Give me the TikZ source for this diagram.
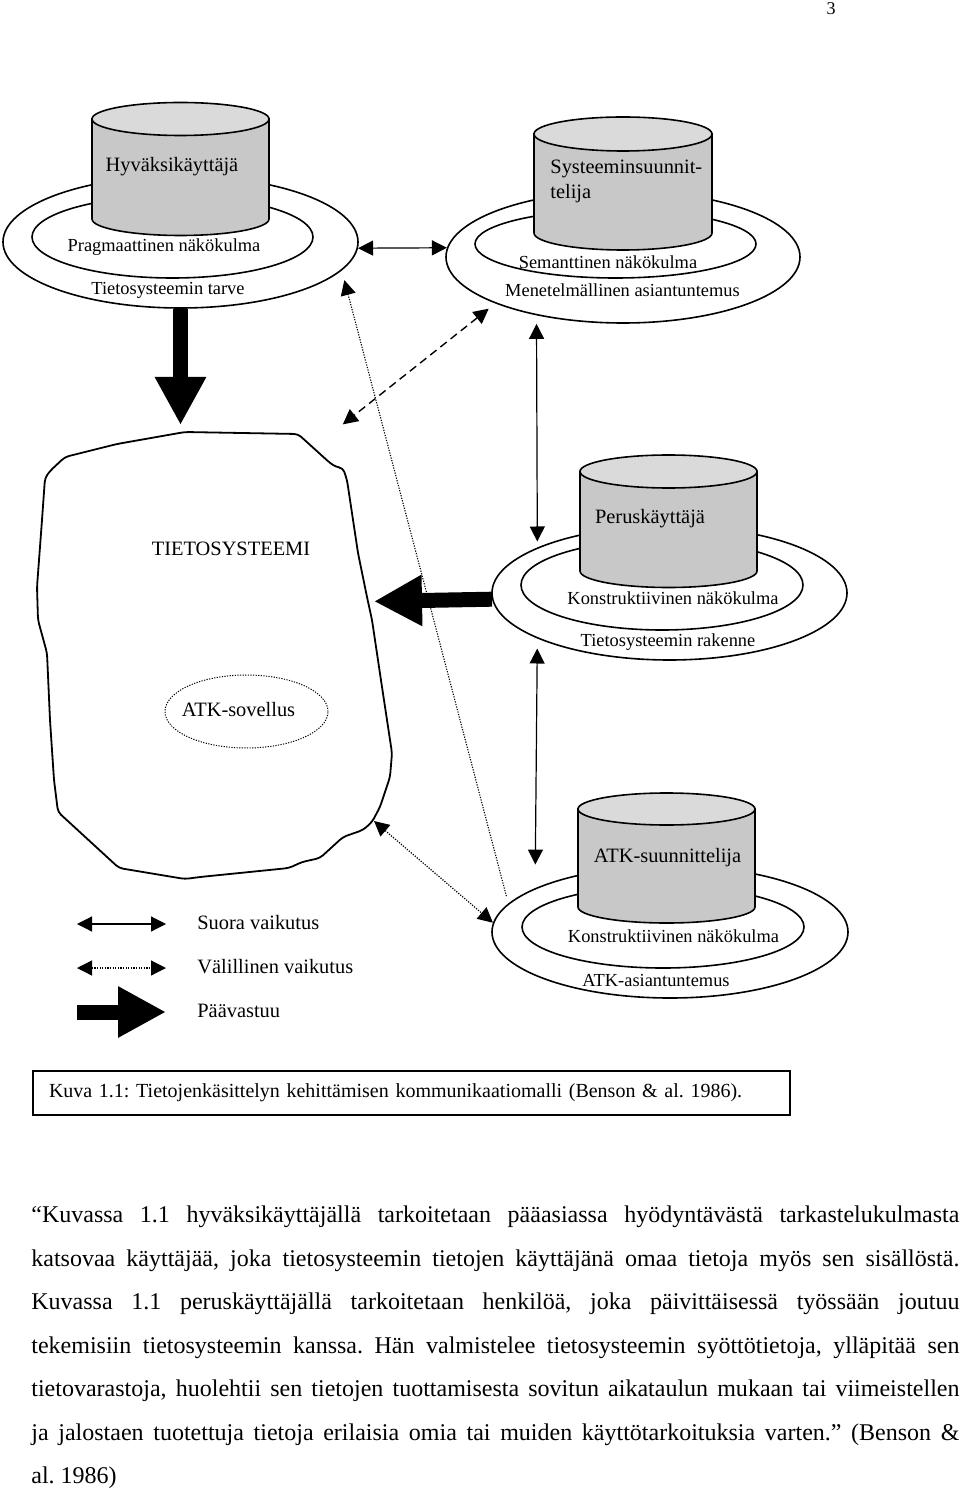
\documentclass[tikz,border=0pt]{standalone}
\usepackage{fontspec}
\setmainfont{Liberation Serif}
\usepackage{tikz}
\usetikzlibrary{calc}
\usetikzlibrary{shapes.geometric}
\usetikzlibrary{arrows.meta}
\definecolor{G0}{HTML}{C8C8C8}
\definecolor{G1}{HTML}{DADADA}
\tikzset{
  ring/.style={ellipse,draw,line width=0.8pt,inner sep=0pt},
  nimi/.style={font=\fontsize{10.2}{12.5}\selectfont,inner sep=0pt},
  pieni/.style={font=\fontsize{9.2}{11}\selectfont,inner sep=0pt},
  suora/.style={line width=0.6pt,{Triangle[length=7.5pt,width=7.5pt]}-{Triangle[length=7.5pt,width=7.5pt]}},
  valil/.style={suora,dash pattern=on 0.6pt off 0.7pt},
  katko/.style={suora,line width=0.7pt,dash pattern=on 4pt off 2.5pt},
  piste/.style={line width=0.55pt,dash pattern=on 0.6pt off 0.7pt,-{Triangle[length=7.5pt,width=7.5pt]}},
  paa/.style={line width=7.5pt,-{Triangle[length=24pt,width=24pt]}}
}
% cylinder: x, top y, bottom y, x radius, y radius
\newcommand{\drum}[5]{%
  \draw[line width=0.8pt,fill=G0] (#1-#4,#2) -- (#1-#4,#3)
    arc[start angle=180,end angle=0,x radius=#4,y radius=#5] -- (#1+#4,#2) -- cycle;
  \draw[line width=0.8pt,fill=G1] (#1,#2) ellipse[x radius=#4,y radius=#5];
}

\begin{document}
\frenchspacing
\begin{tikzpicture}[x=0.5pt,y=-0.5pt]
\useasboundingbox (0,0) rectangle (960,1491);

\node[font=\fontsize{9}{10}\selectfont,anchor=base] (sivu) at (831,15) {3};

% rings
\node[ring,minimum width=177.5pt,minimum height=66pt] (o1) at (180.5,242) {};
\node[ring,minimum width=140.5pt,minimum height=41pt] (i1) at (172.5,237) {};
\node[ring,minimum width=177pt,minimum height=66pt] (o2) at (623,257) {};
\node[ring,minimum width=140.5pt,minimum height=34pt] (i2) at (615.5,244) {};
\node[ring,minimum width=177.5pt,minimum height=67pt] (o3) at (669.5,593) {};
\node[ring,minimum width=141pt,minimum height=45pt] (i3) at (662,585) {};
\node[ring,minimum width=178pt,minimum height=66pt] (o4) at (670,932) {};
\node[ring,minimum width=141pt,minimum height=41pt] (i4) at (663,927) {};

\drum{180.5}{119}{219}{88.5}{16.5}
\drum{623}{134}{233}{89}{17}
\drum{668.5}{471.5}{571}{88.5}{16.5}
\drum{666.5}{809}{907}{88.5}{16}

\node[nimi] (hyv) at (172,167) {Hyväksikäyttäjä};
\node[pieni] (prag) at (164,247) {Pragmaattinen näkökulma};
\node[pieni] (tarve) at (168,290) {Tietosysteemin tarve};
\node[nimi,anchor=west,align=left] (sys) at (550,181.6) {Systeeminsuunnit-\\telija};
\node[pieni] (sem) at (608,262) {Semanttinen näkökulma};
\node[pieni] (men) at (622.5,290) {Menetelmällinen asiantuntemus};
\node[nimi] (perus) at (650,519) {Peruskäyttäjä};
\node[pieni] (kon1) at (673,598) {Konstruktiivinen näkökulma};
\node[pieni] (rak) at (668,642) {Tietosysteemin rakenne};
\node[nimi] (atks) at (667.5,858) {ATK-suunnittelija};
\node[pieni] (kon2) at (673.5,936) {Konstruktiivinen näkökulma};
\node[pieni] (atka) at (656,980) {ATK-asiantuntemus};

% tietosysteemi
\draw[line width=0.9pt,rounded corners=2pt] (45,478) -- (50,471) -- (65,457) -- (117,444)
  -- (185,432) -- (298,434) -- (330,463) -- (336,467) -- (343,468) -- (347,480)
  -- (358,553) -- (367,597) -- (372,620) -- (382,687) -- (392,753) -- (390,777)
  -- (380,807) -- (372,822) -- (363,830) -- (343,837) -- (320,858) -- (302,862)
  -- (289,868) -- (200,877) -- (185,879) -- (119,868) -- (58,812) -- (54,780)
  -- (50,720) -- (47,653) -- (38,620) -- (37,587) -- (42,520) -- cycle;
\coordinate (btop) at (180.5,432);
\coordinate (bne) at (313,448);
\coordinate (bea) at (367,601.5);
\coordinate (bse) at (374,821);
\node[nimi] (ts) at (231,549) {TIETOSYSTEEMI};
\node[ellipse,draw,line width=0.5pt,dash pattern=on 0.6pt off 0.7pt,minimum width=81.5pt,minimum height=36.5pt,inner sep=0pt] (atk) at (246.5,711.5) {};
\node[nimi] (atkt) at (238.5,710) {ATK-sovellus};

% connectors
\draw[paa,shorten >=3.5pt] (o1.south) -- (btop);
\draw[paa,shorten >=3.5pt] (o3.182.8) -- (bea);
\draw[suora] (o1.-2.6) -- (o2.177.7);
\draw[suora,shorten <=4.25pt,shorten >=3pt] (o2.-146.5) -- (o3.161.8);
\draw[suora,shorten <=5pt,shorten >=11.8pt] (o3.-161.8) -- (o4.162.05);
\draw[katko,shorten <=4.2pt,shorten >=19pt] (o2.-160.2) -- (bne);
\draw[piste,shorten <=3.8pt,shorten >=5pt] (o4.170.7) -- (o1.-10.06);
\draw[valil] (bse) -- (o4.177.8);

% legend
\node[nimi,anchor=west] (ls) at (197,923) {Suora vaikutus};
\node[nimi,anchor=west] (lv) at (197,967) {Välillinen vaikutus};
\node[nimi,anchor=west] (lp) at (197,1011) {Päävastuu};
\draw[suora] ($(ls.west)+(-120,1)$) -- ($(ls.west)+(-31,1)$);
\draw[valil] ($(lv.west)+(-120,1)$) -- ($(lv.west)+(-31,1)$);
\draw[paa] ($(lp.west)+(-120,1)$) -- ($(lp.west)+(-31,1)$);

% caption
\node[draw,line width=1pt,minimum width=378.5pt,minimum height=22pt,text width=362.5pt,inner xsep=8pt,inner ysep=0pt,align=left,font=\fontsize{10}{12}\selectfont] (kuva) at (411.5,1093) {Kuva 1.1: Tietojenkäsittelyn kehittämisen kommunikaatiomalli (Benson \& al. 1986).};

% body text
\node[anchor=north west,inner sep=0pt,align=left,font=\fontsize{12}{21.75}\selectfont] (lainaus) at (31,1205.5) {%
\makebox[464pt][s]{“Kuvassa 1.1 hyväksikäyttäjällä tarkoitetaan pääasiassa hyödyntävästä tarkastelukulmasta}\\
\makebox[464pt][s]{katsovaa käyttäjää, joka tietosysteemin tietojen käyttäjänä omaa tietoja myös sen sisällöstä.}\\
\makebox[464pt][s]{Kuvassa 1.1 peruskäyttäjällä tarkoitetaan henkilöä, joka päivittäisessä työssään joutuu}\\
\makebox[464pt][s]{tekemisiin tietosysteemin kanssa. Hän valmistelee tietosysteemin syöttötietoja, ylläpitää sen}\\
\makebox[464pt][s]{tietovarastoja, huolehtii sen tietojen tuottamisesta sovitun aikataulun mukaan tai viimeistellen}\\
\makebox[464pt][s]{ja jalostaen tuotettuja tietoja erilaisia omia tai muiden käyttötarkoituksia varten.” (Benson \&}\\
al. 1986)};

\end{tikzpicture}
\end{document}
